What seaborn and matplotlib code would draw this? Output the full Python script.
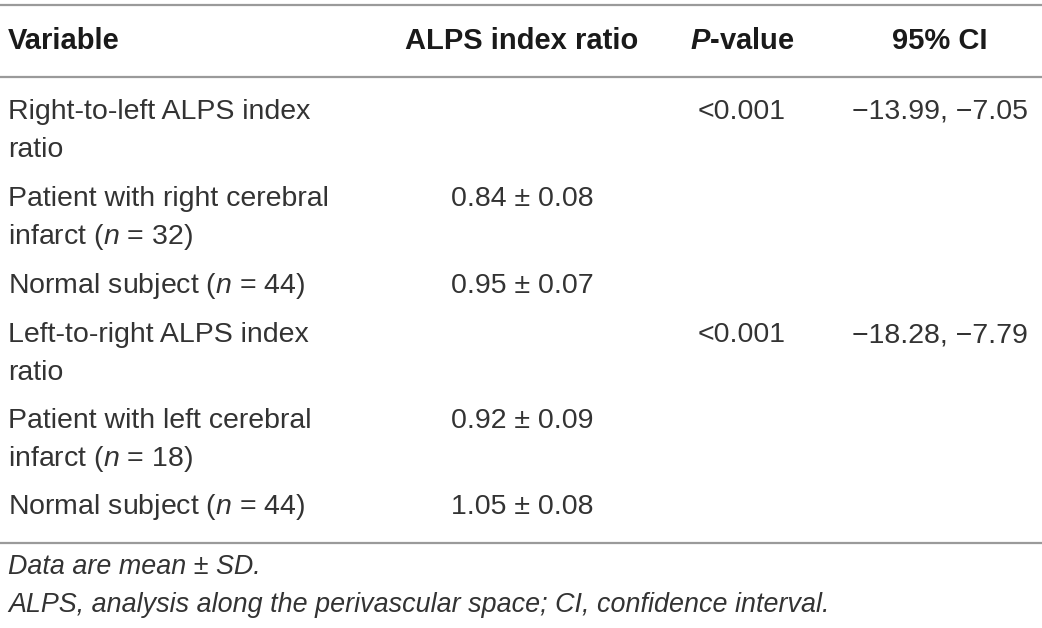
import matplotlib.pyplot as plt
import seaborn as sns

# --- Table content ---
HEADERS = ["Variable", "ALPS index ratio", r"$\mathbfit{P}$-value", "95% CI"]
VARIABLES = [
    "Right-to-left ALPS index\nratio",
    "Patient with right cerebral\ninfarct ($n$ = 32)",
    "Normal subject ($n$ = 44)",
    "Left-to-right ALPS index\nratio",
    "Patient with left cerebral\ninfarct ($n$ = 18)",
    "Normal subject ($n$ = 44)",
]
ALPS_RATIO = ["", "0.84 \u00b1 0.08", "0.95 \u00b1 0.07", "", "0.92 \u00b1 0.09", "1.05 \u00b1 0.08"]
P_VALUES = ["<0.001", "", "", "<0.001", "", ""]
CI_95 = ["\u221213.99, \u22127.05", "", "", "\u221218.28, \u22127.79", "", ""]
FOOTNOTES = [
    "Data are mean \u00b1 SD.",
    "ALPS, analysis along the perivascular space; CI, confidence interval.",
]

# --- Layout (pixels) ---
W, H = 1042, 628
ROW_TOP = [112, 199, 286, 335, 421, 507]
LINE_H = 38
COL_X = [8, 522, 742, 940]
HEADER_Y = 41
RULES_Y = [5, 77, 543]
FOOT_Y = [567, 605]
FONT = "Liberation Sans"
TXT = "#333333"
RULE = "#9a9a9a"
FS = 20.5
FS_HEAD = 21
FS_FOOT = 19.4

sns.set_theme(style="white")
plt.rcParams['font.family'] = [FONT, 'DejaVu Sans']
plt.rcParams['mathtext.fontset'] = 'custom'
plt.rcParams['mathtext.rm'] = FONT
plt.rcParams['mathtext.it'] = FONT + ':italic'
plt.rcParams['mathtext.bf'] = FONT + ':bold'
plt.rcParams['mathtext.bfit'] = FONT + ':bold:italic'

fig = plt.figure(figsize=(W / 100, H / 100), dpi=100)
ax = fig.add_axes([0, 0, 1, 1])
ax.set_xlim(0, W)
ax.set_ylim(H, 0)
ax.axis('off')

for y in RULES_Y:
    ax.axhline(y, color=RULE, linewidth=1.6)

# header
for i, h in enumerate(HEADERS):
    ax.text(COL_X[i], HEADER_Y, h, ha='left' if i == 0 else 'center', va='center',
            fontsize=FS_HEAD, fontweight='bold', color='#1a1a1a')

# body rows
for r, y in enumerate(ROW_TOP):
    for k, line in enumerate(VARIABLES[r].split("\n")):
        ax.text(COL_X[0], y + k * LINE_H, line, ha='left', va='center',
                fontsize=FS, color=TXT)
    for c, col in enumerate([ALPS_RATIO, P_VALUES, CI_95], start=1):
        if col[r]:
            ax.text(COL_X[c], y, col[r], ha='center', va='center', fontsize=FS, color=TXT)

# footnotes
for y, note in zip(FOOT_Y, FOOTNOTES):
    ax.text(COL_X[0], y, note, ha='left', va='center', fontsize=FS_FOOT,
            style='italic', color=TXT)

fig.savefig("out.png", dpi=100, facecolor='white')
